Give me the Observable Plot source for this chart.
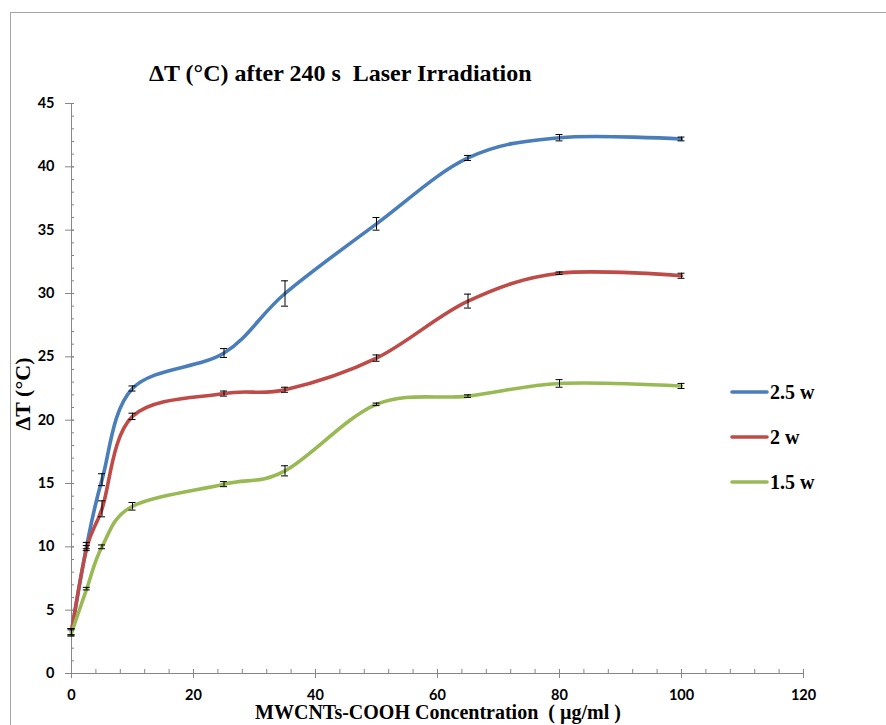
<!DOCTYPE html>
<html><head><meta charset="utf-8">
<script src="https://cdn.jsdelivr.net/npm/d3@7"></script>
<script src="https://cdn.jsdelivr.net/npm/@observablehq/plot@0.6"></script>
<style>
body{margin:0;background:#fff;}
#wrap{position:relative;width:886px;height:725px;overflow:hidden;background:#fff;}
#border{position:absolute;left:10px;top:12px;width:900px;height:800px;border-left:1px solid #a6a6a6;border-top:1px solid #a6a6a6;box-sizing:border-box;}
#chart{position:absolute;left:0;top:0;}
#overlay{position:absolute;left:0;top:0;pointer-events:none;}
</style>
</head><body>
<div id="wrap"><div id="border"></div><div id="chart"></div><svg id="overlay" width="886" height="725"></svg></div>
<script>
// ---- data ----
const conc = [0, 2.5, 5, 10, 25, 35, 50, 65, 80, 100];
const seriesNames = ["2.5 w", "2 w", "1.5 w"];
const seriesColors = ["#4a7ebb", "#be4b48", "#98b954"];
const dT_2_5w = [3.3, 10.1, 15.3, 22.5, 25.3, 30.0, 35.5, 40.7, 42.3, 42.2];
const err_2_5w = [0.25, 0.25, 0.47, 0.2, 0.35, 1.0, 0.5, 0.2, 0.25, 0.15];
const dT_2w = [3.3, 9.9, 13.0, 20.3, 22.1, 22.4, 24.9, 29.4, 31.6, 31.4];
const err_2w = [0.25, 0.2, 0.63, 0.25, 0.2, 0.2, 0.25, 0.55, 0.1, 0.2];
const dT_1_5w = [3.2, 6.7, 10.0, 13.2, 14.95, 16.0, 21.25, 21.9, 22.9, 22.7];
const err_1_5w = [0.25, 0.1, 0.15, 0.3, 0.2, 0.4, 0.1, 0.1, 0.3, 0.2];
const xTicks = [0, 20, 40, 60, 80, 100, 120];
const xMinor = d3.range(0, 121, 4);
const yTicks = [0, 5, 10, 15, 20, 25, 30, 35, 40, 45];
const yMinor = d3.range(0, 46, 1);
const title = "\u0394T (\u00b0C) after 240 s  Laser Irradiation";
const xTitle = "MWCNTs-COOH Concentration  ( \u00b5g/ml )";
const yTitle = "\u0394T (\u00b0C)";

const values = [dT_2_5w, dT_2w, dT_1_5w];
const errs = [err_2_5w, err_2w, err_1_5w];
const rows = [];
seriesNames.forEach((s, k) => conc.forEach((c, i) => rows.push({series: s, x: c, y: values[k][i], lo: values[k][i] - errs[k][i], hi: values[k][i] + errs[k][i]})));

const axisColor = "#868686";
const tickFont = {fontFamily: "Lato, 'Liberation Sans', sans-serif", fontWeight: "bold", fontSize: 14.5, fill: "#000"};

const plot = Plot.plot({
  width: 886, height: 725,
  marginLeft: 71, marginRight: 83, marginTop: 103, marginBottom: 52,
  x: {domain: [0, 120]},
  y: {domain: [0, 45]},
  color: {domain: seriesNames, range: seriesColors},
  style: {background: "transparent", overflow: "visible"},
  marks: [
    Plot.ruleX([0], {stroke: axisColor}),
    Plot.ruleY([0], {stroke: axisColor}),
    Plot.axisY({ticks: yMinor, tickSize: 3, dx: 3, stroke: axisColor, tickFormat: () => "", label: null}),
    Plot.axisY({ticks: yTicks, tickSize: 9, dx: 3, tickPadding: 11, stroke: axisColor, tickFormat: d3.format("d"), label: null, ...tickFont}),
    Plot.axisX({ticks: xMinor, tickSize: 4, dy: -4, stroke: axisColor, tickFormat: () => "", label: null}),
    Plot.axisX({ticks: xTicks, tickSize: 9, dy: -4, tickPadding: 11, stroke: axisColor, tickFormat: d3.format("d"), label: null, ...tickFont}),
    Plot.line(rows, {x: "x", y: "y", z: "series", stroke: "series", strokeWidth: 3.6, curve: "catmull-rom", tension: 0}),
    Plot.ruleX(rows, {x: "x", y1: "lo", y2: "hi", stroke: "#000", strokeWidth: 1}),
    Plot.ruleY(rows, {y: "lo", x1: "x", x2: "x", insetLeft: -3.5, insetRight: -3.5, stroke: "#000", strokeWidth: 1}),
    Plot.ruleY(rows, {y: "hi", x1: "x", x2: "x", insetLeft: -3.5, insetRight: -3.5, stroke: "#000", strokeWidth: 1})
  ]
});
document.getElementById("chart").appendChild(plot);

// ---- titles & legend ----
const ov = d3.select("#overlay");
const serif = "'Liberation Serif', 'Times New Roman', serif";
ov.append("text").attr("x", 149).attr("y", 81).attr("font-family", serif).attr("font-weight", "bold").attr("font-size", 24).attr("xml:space", "preserve").style("white-space", "pre").text(title);
ov.append("text").attr("x", 438).attr("y", 719).attr("text-anchor", "middle").attr("font-family", serif).attr("font-weight", "bold").attr("font-size", 20).style("white-space", "pre").text(xTitle);
ov.append("text").attr("transform", "translate(30,394) rotate(-90)").attr("text-anchor", "middle").attr("font-family", serif).attr("font-weight", "bold").attr("font-size", 22).text(yTitle);
const legendY = [392, 437, 482];
seriesNames.forEach((s, k) => {
  const g = ov.append("g").attr("transform", `translate(732,${legendY[k]})`);
  g.append("line").attr("x1", 0).attr("x2", 35).attr("stroke", seriesColors[k]).attr("stroke-width", 3.6).attr("stroke-linecap", "round");
  g.append("text").attr("x", 38).attr("y", 7).attr("font-family", serif).attr("font-weight", "bold").attr("font-size", 20).text(s);
});
</script>
</body></html>
